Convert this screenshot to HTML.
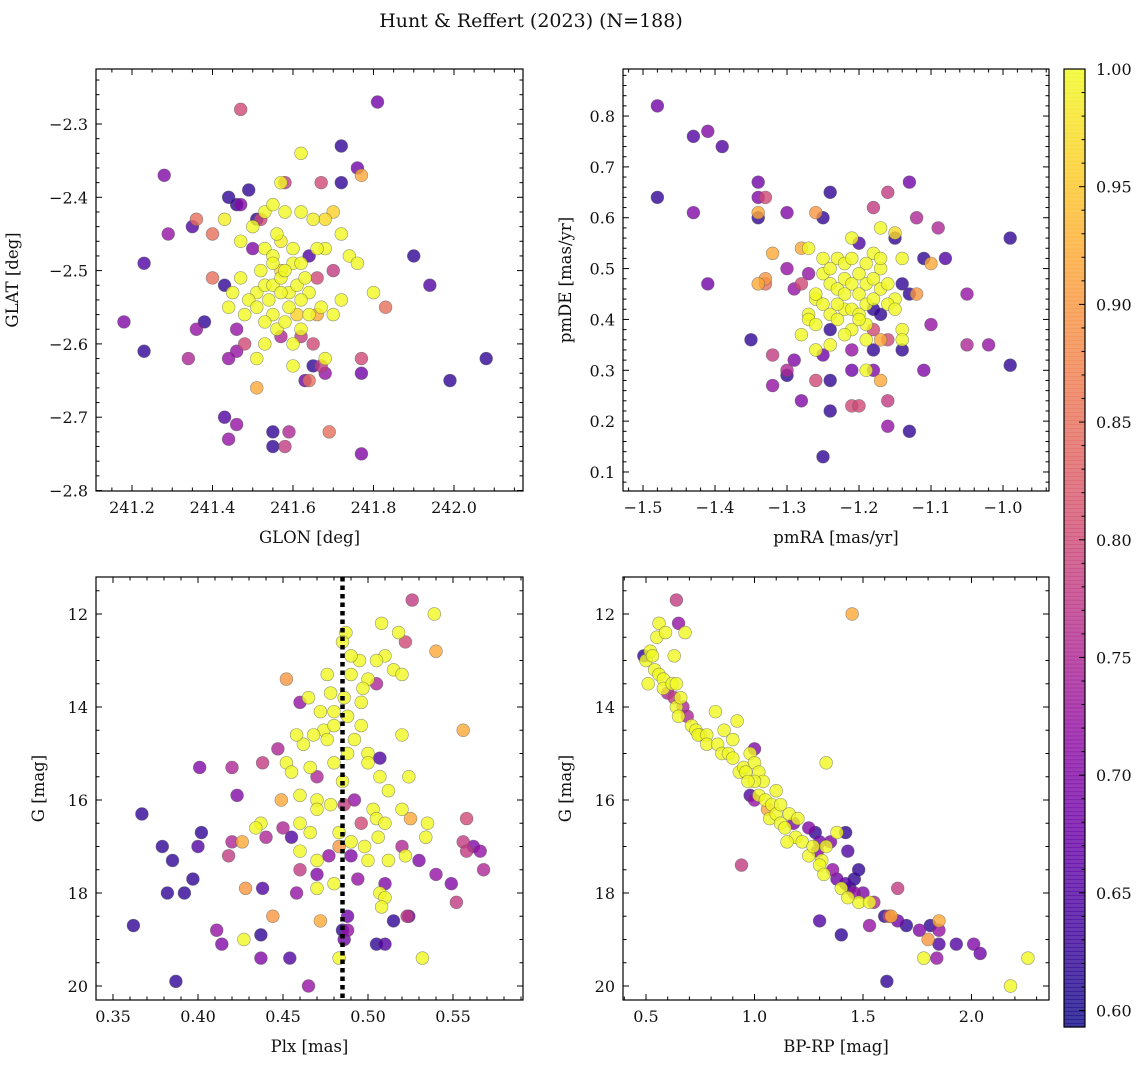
<!DOCTYPE html>
<html><head><meta charset="utf-8"><style>
html,body{margin:0;padding:0;background:#fff;}
svg text{font-family:"DejaVu Serif","Liberation Serif",serif;fill:#111;}
</style></head><body>
<svg id="c" width="1148" height="1068" xmlns="http://www.w3.org/2000/svg">
<text x="531" y="27" font-size="19" text-anchor="middle">Hunt &amp; Reffert (2023) (N=188)</text>
</svg>
<script>
const p1x=[241.47,241.81,241.72,241.76,241.62,241.28,241.57,241.58,241.67,241.77,241.72,241.49,241.44,241.46,241.47,241.43,241.36,241.35,241.29,241.40,241.23,241.51,241.52,241.53,241.55,241.58,241.62,241.65,241.68,241.70,241.72,241.47,241.50,241.53,241.55,241.57,241.60,241.62,241.64,241.68,241.70,241.74,241.76,241.40,241.47,241.43,241.51,241.53,241.55,241.57,241.59,241.61,241.64,241.66,241.80,241.83,241.90,241.94,241.38,241.18,241.23,241.34,241.36,241.44,241.46,241.48,241.49,241.51,241.54,241.55,241.56,241.58,241.59,241.61,241.62,241.64,241.66,241.67,241.70,241.72,241.65,241.62,241.53,241.57,241.51,241.44,241.46,241.48,241.60,241.65,241.67,241.68,241.68,241.64,241.63,241.77,241.77,241.51,242.08,241.99,241.43,241.46,241.44,241.55,241.59,241.69,241.55,241.58,241.77,241.55,241.57,241.56,241.60,241.58,241.63,241.52,241.57,241.62,241.53,241.60,241.66,241.50,241.45];
const p1y=[-2.28,-2.27,-2.33,-2.36,-2.34,-2.37,-2.38,-2.38,-2.38,-2.37,-2.38,-2.39,-2.40,-2.41,-2.41,-2.43,-2.43,-2.44,-2.45,-2.45,-2.49,-2.43,-2.43,-2.42,-2.41,-2.42,-2.42,-2.43,-2.43,-2.42,-2.45,-2.46,-2.47,-2.47,-2.48,-2.46,-2.49,-2.49,-2.48,-2.47,-2.50,-2.48,-2.49,-2.51,-2.51,-2.52,-2.53,-2.52,-2.52,-2.51,-2.53,-2.52,-2.53,-2.51,-2.53,-2.55,-2.48,-2.52,-2.57,-2.57,-2.61,-2.62,-2.58,-2.55,-2.58,-2.56,-2.54,-2.55,-2.54,-2.56,-2.58,-2.57,-2.55,-2.56,-2.58,-2.56,-2.56,-2.55,-2.56,-2.54,-2.60,-2.59,-2.60,-2.59,-2.62,-2.62,-2.61,-2.60,-2.63,-2.63,-2.63,-2.62,-2.64,-2.65,-2.65,-2.62,-2.64,-2.66,-2.62,-2.65,-2.70,-2.71,-2.73,-2.72,-2.72,-2.72,-2.74,-2.74,-2.75,-2.49,-2.50,-2.45,-2.47,-2.50,-2.51,-2.50,-2.53,-2.54,-2.57,-2.60,-2.47,-2.44,-2.53];
const p1c=[0.80,0.68,0.62,0.68,1.00,0.70,1.00,0.78,0.80,0.92,0.62,0.62,0.62,0.62,0.70,0.99,0.85,0.65,0.72,0.85,0.65,0.62,0.80,1.00,1.00,1.00,1.00,0.99,0.97,0.96,1.00,1.00,0.70,1.00,1.00,0.99,1.00,1.00,0.65,1.00,0.78,1.00,1.00,0.85,1.00,0.62,1.00,1.00,1.00,1.00,1.00,1.00,1.00,0.80,1.00,0.85,0.62,0.65,0.62,0.70,0.62,0.75,0.72,1.00,0.72,1.00,1.00,1.00,1.00,1.00,1.00,1.00,1.00,0.96,1.00,1.00,0.92,1.00,1.00,1.00,0.80,0.78,1.00,0.75,1.00,0.72,0.72,0.80,1.00,0.62,0.78,1.00,0.72,0.85,0.68,0.80,0.68,0.92,0.62,0.62,0.65,0.72,0.72,0.62,0.75,0.85,0.62,0.78,0.70,1.00,0.97,1.00,1.00,1.00,1.00,1.00,1.00,1.00,1.00,1.00,1.00,1.00,1.00];

const p2x=[-1.48,-1.48,-1.43,-1.41,-1.39,-1.43,-1.41,-1.35,-1.34,-1.34,-1.33,-1.34,-1.34,-1.30,-1.26,-1.24,-1.25,-1.18,-1.16,-1.13,-1.12,-1.09,-1.17,-1.15,-1.15,-1.20,-1.18,-1.32,-1.28,-1.27,-1.25,-1.23,-1.22,-1.21,-1.19,-1.17,-1.14,-1.10,-1.11,-1.08,-1.30,-1.33,-1.33,-1.34,-1.28,-1.29,-1.27,-1.25,-1.24,-1.23,-1.22,-1.21,-1.20,-1.19,-1.18,-1.17,-1.16,-1.14,-1.13,-1.12,-1.15,-1.26,-1.25,-1.24,-1.22,-1.21,-1.20,-1.19,-1.18,-1.17,-1.16,-1.15,-1.26,-1.27,-1.28,-1.27,-1.23,-1.21,-1.19,-1.18,-1.16,-1.14,-1.22,-1.24,-1.32,-1.30,-1.29,-1.26,-1.25,-1.24,-1.21,-1.18,-1.17,-1.14,-1.14,-1.10,-1.05,-1.05,-1.02,-0.99,-0.99,-1.32,-1.30,-1.26,-1.24,-1.21,-1.19,-1.18,-1.17,-1.11,-1.28,-1.24,-1.21,-1.20,-1.16,-1.16,-1.13,-1.25,-1.22,-1.20,-1.18,-1.24,-1.20,-1.23,-1.17,-1.26,-1.19,-1.21];
const p2y=[0.82,0.64,0.76,0.77,0.74,0.61,0.47,0.36,0.67,0.64,0.64,0.61,0.60,0.61,0.61,0.65,0.60,0.62,0.65,0.67,0.60,0.58,0.58,0.57,0.56,0.55,0.53,0.53,0.54,0.54,0.52,0.52,0.51,0.52,0.51,0.50,0.52,0.51,0.52,0.52,0.50,0.48,0.47,0.47,0.47,0.46,0.49,0.49,0.47,0.46,0.48,0.47,0.45,0.47,0.48,0.46,0.47,0.47,0.45,0.45,0.44,0.44,0.43,0.41,0.42,0.42,0.41,0.43,0.42,0.41,0.43,0.42,0.45,0.41,0.37,0.40,0.40,0.38,0.39,0.38,0.36,0.38,0.37,0.38,0.33,0.30,0.32,0.34,0.33,0.35,0.34,0.34,0.36,0.36,0.34,0.39,0.45,0.35,0.35,0.56,0.31,0.27,0.29,0.28,0.28,0.30,0.30,0.30,0.28,0.30,0.24,0.22,0.23,0.23,0.24,0.19,0.18,0.13,0.45,0.49,0.44,0.50,0.40,0.43,0.52,0.39,0.36,0.56];
const p2c=[0.68,0.62,0.65,0.70,0.65,0.70,0.68,0.62,0.68,0.70,0.80,0.92,0.62,0.70,0.90,0.62,0.62,0.78,0.78,0.68,0.75,0.75,1.00,0.97,0.62,0.65,1.00,0.92,0.92,1.00,1.00,1.00,1.00,1.00,1.00,1.00,1.00,0.92,0.62,0.65,0.72,0.90,0.85,0.92,0.80,0.72,0.72,1.00,1.00,1.00,1.00,1.00,1.00,1.00,1.00,1.00,1.00,0.62,0.62,0.90,1.00,1.00,1.00,1.00,1.00,1.00,1.00,1.00,0.62,0.62,1.00,1.00,1.00,1.00,1.00,1.00,1.00,1.00,1.00,0.80,0.80,1.00,1.00,0.62,0.78,0.75,0.70,1.00,0.68,1.00,0.72,0.62,0.92,1.00,0.62,0.72,0.72,0.75,0.72,0.62,0.62,0.72,0.62,0.80,0.62,0.68,1.00,0.70,0.92,0.70,0.70,0.62,0.80,0.80,0.78,0.72,0.62,0.62,1.00,1.00,1.00,1.00,1.00,1.00,1.00,1.00,1.00,1.00];

const p3x=[0.526,0.539,0.487,0.485,0.508,0.518,0.522,0.510,0.505,0.495,0.540,0.515,0.520,0.500,0.490,0.476,0.497,0.505,0.452,0.478,0.486,0.465,0.460,0.496,0.472,0.480,0.488,0.474,0.480,0.496,0.492,0.468,0.462,0.476,0.458,0.488,0.500,0.507,0.520,0.556,0.447,0.452,0.438,0.455,0.466,0.470,0.485,0.500,0.507,0.512,0.524,0.401,0.420,0.423,0.449,0.460,0.470,0.478,0.486,0.492,0.503,0.520,0.505,0.496,0.510,0.525,0.535,0.450,0.437,0.434,0.440,0.455,0.466,0.483,0.490,0.498,0.506,0.520,0.534,0.558,0.556,0.562,0.566,0.558,0.367,0.402,0.400,0.379,0.385,0.397,0.420,0.418,0.426,0.460,0.470,0.477,0.483,0.490,0.500,0.512,0.522,0.530,0.540,0.568,0.460,0.470,0.480,0.494,0.510,0.507,0.510,0.382,0.392,0.428,0.438,0.458,0.470,0.508,0.515,0.524,0.523,0.549,0.552,0.472,0.488,0.485,0.488,0.486,0.444,0.411,0.414,0.437,0.427,0.454,0.483,0.505,0.510,0.532,0.362,0.437,0.387,0.465,0.490,0.470,0.460,0.480];
const p3y=[11.7,12.0,12.4,12.6,12.2,12.4,12.6,12.9,13.0,13.0,12.8,13.2,13.3,13.4,13.3,13.3,13.6,13.5,13.4,13.7,13.8,13.8,13.9,13.9,14.1,14.1,14.2,14.5,14.4,14.4,14.7,14.6,14.8,14.7,14.6,15.0,15.0,15.1,14.6,14.5,14.9,15.2,15.2,15.4,15.3,15.5,15.6,15.2,15.5,15.8,15.5,15.3,15.3,15.9,16.0,15.9,16.0,16.1,16.1,16.0,16.2,16.2,16.4,16.5,16.5,16.4,16.5,16.6,16.5,16.6,16.8,16.8,16.7,16.7,16.9,17.0,16.8,17.0,16.8,16.4,16.9,17.0,17.1,17.1,16.3,16.7,17.0,17.0,17.3,17.7,16.9,17.2,16.9,17.1,17.3,17.2,17.0,17.2,17.3,17.3,17.2,17.3,17.6,17.5,17.5,17.6,17.8,17.7,17.8,18.0,18.1,18.0,18.0,17.9,17.9,18.0,17.9,18.3,18.6,18.5,18.5,17.8,18.2,18.6,18.5,18.8,18.8,19.0,18.5,18.8,19.1,18.9,19.0,19.4,19.4,19.1,19.1,19.4,18.7,19.4,19.9,20.0,12.9,16.2,16.5,15.2];
const p3c=[0.78,1.00,1.00,1.00,1.00,1.00,0.80,1.00,1.00,1.00,0.92,1.00,1.00,1.00,1.00,1.00,1.00,0.75,0.90,1.00,1.00,1.00,0.72,1.00,1.00,1.00,1.00,1.00,1.00,1.00,1.00,1.00,1.00,1.00,1.00,1.00,1.00,0.65,1.00,0.92,0.75,1.00,0.78,1.00,1.00,0.75,1.00,1.00,1.00,1.00,1.00,0.70,0.75,0.70,0.92,1.00,1.00,1.00,0.78,0.72,1.00,1.00,1.00,0.80,1.00,0.92,1.00,0.75,1.00,1.00,0.75,0.65,1.00,1.00,1.00,1.00,1.00,0.75,1.00,0.80,0.78,0.70,0.72,0.78,0.62,0.62,0.65,0.62,0.62,0.62,0.75,0.78,0.92,1.00,1.00,0.72,0.90,0.70,1.00,1.00,1.00,0.70,0.72,0.75,0.78,0.70,1.00,0.72,0.70,1.00,1.00,0.62,0.62,0.90,0.65,0.72,1.00,1.00,0.62,0.65,0.78,0.70,0.78,0.92,0.68,0.62,0.72,0.68,0.90,0.72,0.70,0.62,1.00,0.65,1.00,0.62,0.65,1.00,0.62,0.70,0.62,0.72,1.00,1.00,1.00,1.00];

const p4x=[0.49,0.50,0.52,0.55,0.56,0.59,0.64,0.65,0.68,0.63,0.53,0.54,0.56,0.58,0.51,0.58,0.60,0.62,0.64,0.63,0.64,0.65,0.66,0.67,0.69,0.71,0.73,0.75,0.74,0.78,0.78,0.82,0.86,0.83,0.85,0.88,0.90,0.92,0.90,0.93,0.95,0.96,0.98,1.00,1.00,1.02,1.04,0.98,1.00,1.02,1.05,1.06,1.08,1.07,1.10,1.12,1.12,1.14,1.16,1.18,1.20,1.19,1.22,1.25,1.28,1.30,1.29,1.31,1.33,1.35,1.38,1.42,1.43,1.33,0.94,1.30,1.32,1.36,1.38,1.40,1.42,1.44,1.46,1.48,1.48,1.43,1.46,1.50,1.53,1.55,1.60,1.63,1.66,1.62,1.66,1.70,1.76,1.81,1.85,1.85,1.85,1.93,2.01,2.04,2.18,2.26,1.61,1.30,1.40,1.53,1.78,1.84,1.80,1.45,1.00,1.10,0.97,1.15,1.25,1.27];
const p4y=[12.9,13.0,12.8,12.5,12.2,12.4,11.7,12.2,12.4,12.9,12.9,13.2,13.3,13.4,13.5,13.6,13.7,13.5,13.5,13.8,14.0,14.2,13.8,14.0,14.2,14.4,14.5,14.6,14.6,14.6,14.8,14.1,14.5,14.8,15.0,15.0,14.7,14.3,15.1,15.4,15.3,15.4,15.0,14.9,15.2,15.4,15.6,15.9,16.0,15.9,16.0,16.2,16.1,16.4,16.3,16.1,16.5,16.6,16.3,16.5,16.4,16.8,16.9,16.6,16.7,16.9,17.1,17.3,17.0,16.9,16.7,16.7,17.1,15.2,17.4,17.4,17.6,17.5,17.7,17.9,17.8,17.9,17.7,17.5,18.2,18.1,18.0,18.0,18.2,18.2,18.5,18.5,17.9,18.5,18.6,18.7,18.8,18.7,18.8,18.6,19.1,19.1,19.1,19.3,20.0,19.4,19.9,18.6,18.9,18.7,19.4,19.4,19.0,12.0,15.6,15.8,15.6,16.9,17.2,17.0];
const p4c=[0.62,1.00,1.00,1.00,1.00,1.00,0.78,0.72,1.00,1.00,1.00,1.00,1.00,1.00,1.00,1.00,0.75,1.00,1.00,0.78,1.00,1.00,1.00,0.75,0.75,1.00,1.00,1.00,1.00,1.00,1.00,1.00,1.00,1.00,1.00,1.00,1.00,1.00,1.00,1.00,1.00,1.00,1.00,0.70,1.00,1.00,1.00,0.65,0.72,1.00,1.00,0.92,1.00,1.00,1.00,1.00,1.00,1.00,1.00,0.70,1.00,1.00,1.00,0.70,0.62,0.68,0.70,1.00,1.00,0.70,1.00,0.62,0.65,1.00,0.78,1.00,1.00,0.72,0.68,1.00,0.65,0.62,0.62,0.62,1.00,1.00,0.72,0.70,1.00,0.75,0.62,0.92,0.78,0.80,0.68,0.62,0.70,0.62,0.72,0.92,0.65,0.65,0.70,0.68,1.00,1.00,0.62,0.65,0.62,0.72,1.00,0.72,0.90,0.92,1.00,1.00,1.00,1.00,1.00,1.00];

const cbTicks=[0.60,0.65,0.70,0.75,0.80,0.85,0.90,0.95,1.00];
const CMIN=0.593, CMAX=1.0;
const stops=["#0d0887","#41049d","#6a00a8","#8f0da4","#b12a90","#cc4778","#e16462","#f2844b","#fca636","#fcce25","#f0f921"];
function hex(h){return [1,3,5].map(i=>parseInt(h.substr(i,2),16));}
function plasma(t){t=Math.max(0,Math.min(1,t));const f=t*10,i=Math.min(9,Math.floor(f)),r=f-i;const a=hex(stops[i]),b=hex(stops[i+1]);return "rgb("+a.map((v,k)=>Math.round(v+(b[k]-v)*r)).join(",")+")";}
const svg=document.getElementById('c');const NS="http://www.w3.org/2000/svg";
function mk(tag,attrs,parent){const e=document.createElementNS(NS,tag);for(const k in attrs)e.setAttribute(k,attrs[k]);(parent||svg).appendChild(e);return e;}

function panel(o){
  const g=mk('g',{});
  
  
  const sx=v=>o.x0+(v-o.xa)/(o.xb-o.xa)*(o.x1-o.x0);
  const sy=v=>o.yinv? o.y0+(v-o.ya)/(o.yb-o.ya)*(o.y1-o.y0) : o.y1-(v-o.ya)/(o.yb-o.ya)*(o.y1-o.y0);
  const idx=o.xs.map((_,i)=>i).sort((a,b)=>o.cs[a]-o.cs[b]);
  for(const i of idx){
    const c=mk('circle',{cx:sx(o.xs[i]),cy:sy(o.ys[i]),r:6.4,fill:plasma((o.cs[i]-CMIN)/(CMAX-CMIN)),'fill-opacity':0.8,stroke:'#555','stroke-opacity':0.6,'stroke-width':0.6},g);
    
    
  }
  if(o.vline!==undefined){
    const l=mk('line',{x1:sx(o.vline),x2:sx(o.vline),y1:o.y0,y2:o.y1,stroke:'#000','stroke-width':4.5,'stroke-dasharray':'4.5,4'},g);
    
    
  }
  const fr=mk('rect',{x:o.x0,y:o.y0,width:o.x1-o.x0,height:o.y1-o.y0,fill:'none',stroke:'#000','stroke-width':1.2},g);
  
  
  const xm=o.xminor;
  for(let k=Math.ceil(o.xa/xm-1e-6); k*xm<=o.xb+1e-9; k++){
    const v=k*xm;const px=sx(v);const isMaj=o.xt.some(t=>Math.abs(t-v)<xm/3);const L=isMaj?6:3.5;
    mk('line',{x1:px,x2:px,y1:o.y1,y2:o.y1-L,stroke:'#000','stroke-width':1},g);
    mk('line',{x1:px,x2:px,y1:o.y0,y2:o.y0+L,stroke:'#000','stroke-width':1},g);
  }
  o.xt.forEach((t,i)=>{const tx=mk('text',{x:sx(t),y:o.y1+22,'font-size':16,'text-anchor':'middle'},g);tx.textContent=o.xl[i];
    
    });
  const ym=o.yminor;
  for(let k=Math.ceil(o.ya/ym-1e-6); k*ym<=o.yb+1e-9; k++){
    const v=k*ym;const py=sy(v);const isMaj=o.yt.some(t=>Math.abs(t-v)<ym/3);const L=isMaj?6:3.5;
    mk('line',{x1:o.x0,x2:o.x0+L,y1:py,y2:py,stroke:'#000','stroke-width':1},g);
    mk('line',{x1:o.x1,x2:o.x1-L,y1:py,y2:py,stroke:'#000','stroke-width':1},g);
  }
  o.yt.forEach((t,i)=>{const tx=mk('text',{x:o.x0-8,y:sy(t)+6,'font-size':16,'text-anchor':'end'},g);tx.textContent=o.yl[i];
    
    });
  const xl=mk('text',{x:(o.x0+o.x1)/2,y:o.y1+52,'font-size':16.5,'text-anchor':'middle'},g);xl.textContent=o.xlabel;
  
  
  const yx=o.x0-o.ylabOff, yy=(o.y0+o.y1)/2;
  const yl=mk('text',{x:yx,y:yy,'font-size':16.5,'text-anchor':'middle',transform:`rotate(-90 ${yx} ${yy})`},g);yl.textContent=o.ylabel;
  
  
}
const m=v=>'\u2212'+Math.abs(v).toFixed(1);
panel({name:'glon-glat-panel',x0:96,x1:523,y0:69,y1:491,xa:241.2-36/402.5,xb:241.2+391/402.5,ya:-2.8-0.5/733,yb:-2.3+55/733,yinv:false,
 xs:p1x,ys:p1y,cs:p1c,xt:[241.2,241.4,241.6,241.8,242.0],xl:['241.2','241.4','241.6','241.8','242.0'],xminor:0.05,
 yt:[-2.8,-2.7,-2.6,-2.5,-2.4,-2.3],yl:[-2.8,-2.7,-2.6,-2.5,-2.4,-2.3].map(m),yminor:0.02,xlabel:'GLON [deg]',ylabel:'GLAT [deg]',ylabOff:78});
panel({name:'proper-motion-panel',x0:623,x1:1049,y0:69,y1:491,xa:-1.5-20/720,xb:-1.5+406/720,ya:0.1-19/508,yb:0.8+47/508,yinv:false,
 xs:p2x,ys:p2y,cs:p2c,xt:[-1.5,-1.4,-1.3,-1.2,-1.1,-1.0],xl:[-1.5,-1.4,-1.3,-1.2,-1.1,-1.0].map(m),xminor:0.02,
 yt:[0.1,0.2,0.3,0.4,0.5,0.6,0.7,0.8],yl:['0.1','0.2','0.3','0.4','0.5','0.6','0.7','0.8'],yminor:0.02,xlabel:'pmRA [mas/yr]',ylabel:'pmDE [mas/yr]',ylabOff:52});
panel({name:'parallax-magnitude-panel',x0:96,x1:523,y0:577,y1:1000,xa:0.35-17/1700,xb:0.35+410/1700,ya:12-37/46.5,yb:20+14/46.5,yinv:true,
 xs:p3x,ys:p3y,cs:p3c,vline:0.485,xt:[0.35,0.40,0.45,0.50,0.55],xl:['0.35','0.40','0.45','0.50','0.55'],xminor:0.01,
 yt:[12,14,16,18,20],yl:['12','14','16','18','20'],yminor:0.5,xlabel:'Plx [mas]',ylabel:'G [mag]',ylabOff:52});
panel({name:'color-magnitude-panel',x0:623,x1:1049,y0:577,y1:1000,xa:0.5-23/217,xb:0.5+403/217,ya:12-37/46.5,yb:20+14/46.5,yinv:true,
 xs:p4x,ys:p4y,cs:p4c,xt:[0.5,1.0,1.5,2.0],xl:['0.5','1.0','1.5','2.0'],xminor:0.1,
 yt:[12,14,16,18,20],yl:['12','14','16','18','20'],yminor:0.5,xlabel:'BP-RP [mag]',ylabel:'G [mag]',ylabOff:52});

const cb=mk('g',{});


const cx0=1064,cx1=1085,cy0=69,cy1=1027;
const cy=v=>cy1-(v-CMIN)/(CMAX-CMIN)*(cy1-cy0);
for(let i=0;i<240;i++){const t0=i/240;const y=cy1-(i+1)/240*(cy1-cy0);
  mk('rect',{x:cx0,y:y,width:cx1-cx0,height:(cy1-cy0)/240+0.6,fill:plasma(t0+0.5/240),'fill-opacity':0.8},cb);}
mk('rect',{x:cx0,y:cy0,width:cx1-cx0,height:cy1-cy0,fill:'none',stroke:'#000','stroke-width':1.2},cb);
for(let k=60;k<=100;k++){const v=k/100;const y=cy(v);const maj=cbTicks.some(t=>Math.abs(t-v)<0.003);
  mk('line',{x1:cx1,x2:cx1-(maj?6:3.5),y1:y,y2:y,stroke:'#000','stroke-width':1},cb);}
cbTicks.forEach(t=>{const tx=mk('text',{x:cx1+11,y:cy(t)+6,'font-size':16},cb);tx.textContent=t.toFixed(2);
  
  });
</script>
</body></html>
